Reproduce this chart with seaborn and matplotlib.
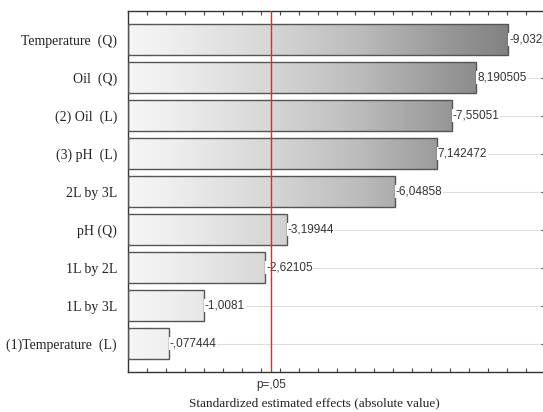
import numpy as np
import pandas as pd
import seaborn as sns
import matplotlib.pyplot as plt
from matplotlib.ticker import MultipleLocator

# Inputs ---------------------------------------
factors = ['Temperature  (Q)', 'Oil  (Q)', '(2) Oil  (L)', '(3) pH  (L)', '2L by 3L',
           'pH (Q)', '1L by 2L', '1L by 3L', '(1)Temperature  (L)']
effects = [-9.03261, 8.190505, -7.55051, 7.142472, -6.04858,
           -3.19944, -2.62105, -1.0081, -0.077444]
effect_labels = ['-9,03261', '8,190505', '-7,55051', '7,142472', '-6,04858',
                 '-3,19944', '-2,62105', '-1,0081', '-,077444']
p_crit = 2.776445
p_label = 'p=,05'
x_lo, x_hi = -1, 10
# -----------------------------------------------

df = pd.DataFrame({'Factor': factors, 'Effect': effects})
df['Abs'] = df['Effect'].abs()

sns.set_style('white')
plt.rcParams['font.family'] = ['Liberation Serif', 'DejaVu Serif']

fig = plt.figure(figsize=(5.43, 4.12), dpi=100)
ax = fig.add_axes([128 / 543, 1 - 372 / 412, 417 / 543, 361 / 412])

sns.barplot(data=df, x='Abs', y='Factor', order=factors, orient='h',
            width=0.79, facecolor='none', edgecolor='#555555', linewidth=1.0,
            ax=ax, zorder=3)

# Statistica draws the bars from the axis minimum, shade with a grey gradient
grad = np.linspace(0, 1, 256).reshape(1, -1)
for p in ax.patches:
    w = p.get_width()
    p.set_x(x_lo)
    p.set_width(w - x_lo)
    y0 = p.get_y()
    im = ax.imshow(grad, extent=[x_lo, x_hi, y0, y0 + p.get_height()],
                   aspect='auto', cmap='Greys', vmin=-0.15, vmax=1.7,
                   origin='lower', zorder=2)
    im.set_clip_path(p)

ax.set_xlim(x_lo, x_hi)
ax.set_ylim(len(factors) - 0.25, -0.75)

for i, (v, lab) in enumerate(zip(df['Abs'], effect_labels)):
    ax.text(v + 0.02, i, lab, ha='left', va='center', fontsize=8.5,
            family=['Liberation Sans', 'DejaVu Sans'], color='#333333', zorder=4,
            bbox=dict(facecolor='white', edgecolor='none', pad=0.5))

ax.axvline(p_crit, color='#c0392b', lw=1.0, zorder=5)
ax.grid(axis='y', color='#dddddd', lw=0.8, zorder=0)
ax.grid(axis='x', visible=False)

ax.set_xticks([p_crit])
ax.set_xticklabels([p_label], family=['Liberation Sans', 'DejaVu Sans'], fontsize=8.5,
                   color='#333333')
ax.xaxis.set_minor_locator(MultipleLocator(0.5))
ax.tick_params(axis='x', which='major', length=0, pad=5)
ax.tick_params(axis='x', which='minor', direction='in', length=3, top=True, bottom=True,
               color='#444444', width=0.8)
ax.tick_params(axis='y', which='major', direction='in', length=3, left=True, right=True,
               labelsize=10, color='#444444', width=0.8, pad=8)
for lab in ax.get_yticklabels():
    lab.set_color('#222222')

for s in ax.spines.values():
    s.set_color('#333333')
    s.set_linewidth(1.0)

ax.set_ylabel('')
ax.set_xlabel('Standardized estimated effects (absolute value)', fontsize=9.5, color='#222222')
ax.xaxis.set_label_coords((314 - 128) / 417, -0.07)

plt.savefig('out.png', dpi=100)
